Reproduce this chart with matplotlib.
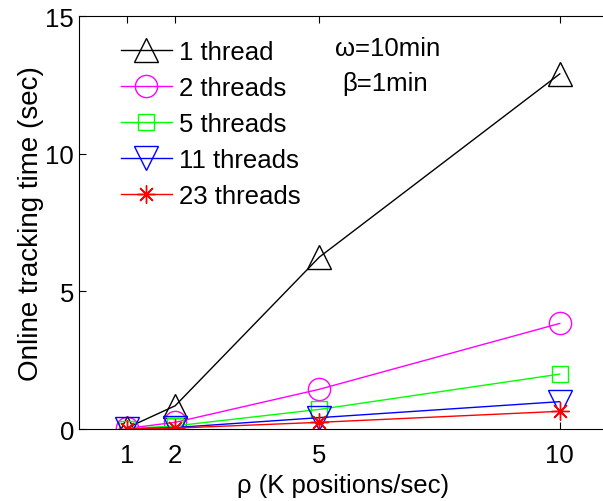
import matplotlib
matplotlib.use('Agg')
import matplotlib.pyplot as plt

plt.rcParams['font.family'] = ['Liberation Sans', 'DejaVu Sans']

# rho (K positions/sec)
rho = [1, 2, 5, 10]
# online tracking time (sec) for each thread count
t_1 = [0.05, 0.85, 6.25, 12.9]
t_2 = [0.03, 0.25, 1.45, 3.84]
t_5 = [0.02, 0.12, 0.72, 2.0]
t_11 = [0.01, 0.06, 0.42, 1.0]
t_23 = [0.01, 0.04, 0.25, 0.65]
labels = ['1 thread', '2 threads', '5 threads', '11 threads', '23 threads']

series = [t_1, t_2, t_5, t_11, t_23]
colors = ['black', '#ff00ff', '#00ff00', '#0000ff', '#ff0000']
markers = ['^', 'o', 's', 'v', (8, 2, 0)]
msizes = [17, 16, 12, 17, 13]

fs = 18.5

fig = plt.figure(figsize=(6.03, 5.02), dpi=100)
# right part of the box runs past the picture edge, as in the original
ax = fig.add_axes([0.131, 0.143, 0.877, 0.823])

for ys, c, m, ms, lab in zip(series, colors, markers, msizes, labels):
    ax.plot(rho, ys, color=c, marker=m, ms=ms, lw=1.0,
            mfc='none', mec=c, mew=1.0, label=lab)

ax.set_xlim(0, 11)
ax.set_ylim(0, 15)
ax.set_xticks(rho)
ax.set_yticks([0, 5, 10, 15])
ax.tick_params(direction='in', length=5, labelsize=fs, top=True, right=False)
ax.tick_params(axis='x', pad=10)
ax.spines['right'].set_visible(False)
ax.set_xlabel('ρ (K positions/sec)', fontsize=fs, labelpad=4)
ax.set_ylabel('Online tracking time (sec)', fontsize=20, labelpad=1)

ax.legend(loc='upper left', frameon=False, fontsize=fs, handlelength=2.0,
          labelspacing=0.47, handletextpad=0.25, borderaxespad=0, borderpad=0,
          bbox_to_anchor=(0.079, 0.943))

ax.text(0.583, 0.922, 'ω=10min', transform=ax.transAxes, fontsize=fs, ha='center', va='center')
ax.text(0.579, 0.838, 'β=1min', transform=ax.transAxes, fontsize=fs, ha='center', va='center')

fig.savefig('out.png', dpi=100)
